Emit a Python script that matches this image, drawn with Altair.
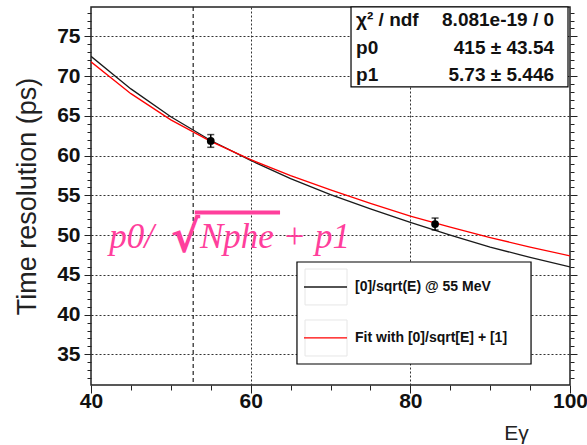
import altair as alt
import pandas as pd

# ---- data ----
energy = [40, 45, 50, 55, 60, 65, 70, 75, 80, 85, 90, 95, 100]
black_curve = [72.5, 68.4, 64.9, 61.9, 59.4, 57.1, 55.1, 53.3, 51.6, 50.0, 48.5, 47.2, 46.0]
red_curve = [71.8, 67.8, 64.5, 61.8, 59.5, 57.5, 55.7, 54.0, 52.4, 51.0, 49.7, 48.5, 47.4]
point_energy = [55.0, 83.1]
point_res = [61.85, 51.4]
point_err = [0.8, 0.75]
marker_energy = [52.8]

x_ticks = [40, 45, 50, 55, 60, 65, 70, 75, 80, 85, 90, 95, 100]
y_ticks = list(range(32, 79))

stats_labels = ["χ² / ndf", "p0", "p1"]
stats_values = ["8.081e-19 / 0", "415 ± 43.54", "5.73 ± 5.446"]
legend_labels = ["[0]/sqrt(E) @ 55 MeV", "Fit with [0]/sqrt[E] + [1]"]
series_names = ["black", "red"]
series_colors = ["#1a1a1a", "#ff0000"]

# ---- tables ----
curves = pd.DataFrame({
    "E": energy * 2,
    "res": black_curve + red_curve,
    "series": ["black"] * len(energy) + ["red"] * len(energy),
    "order": [0] * len(energy) + [1] * len(energy),
})
points = pd.DataFrame({
    "E": point_energy,
    "res": point_res,
    "lo": [v - e for v, e in zip(point_res, point_err)],
    "hi": [v + e for v, e in zip(point_res, point_err)],
})
one = pd.DataFrame({"a": [0]})

XS = alt.Scale(domain=[40, 100], nice=False, zero=False)
YS = alt.Scale(domain=[31.15, 78.7], nice=False, zero=False)

LF = "Liberation Sans"

XA = alt.Axis(
    values=x_ticks,
    labelExpr="datum.value % 20 === 0 ? datum.label : ''",
    tickSize={"condition": {"test": "datum.value % 20 === 0", "value": 8}, "value": 5},
    tickColor="#222", tickWidth=1,
    grid=True,
    gridOpacity={"condition": {"test": "datum.value === 60 || datum.value === 80", "value": 1}, "value": 0},
    gridDash=[2, 2], gridColor="#333", gridWidth=1,
    domain=False,
    labelFont=LF, labelFontWeight="bold", labelFontSize=21, labelColor="#111",
    labelPadding=-3, labelFlush=False,
    title="Eγ", titleFont=LF, titleFontWeight="normal", titleFontSize=21, titleColor="#222",
    titleX=425, titleY=48, titleAlign="center", titleBaseline="middle", titleAngle=0,
)
YA = alt.Axis(
    values=y_ticks,
    labelExpr="datum.value % 5 === 0 ? datum.label : ''",
    tickSize={"condition": {"test": "datum.value % 5 === 0", "value": 7}, "value": 4},
    tickColor="#222", tickWidth=1,
    grid=True,
    gridOpacity={"condition": {"test": "datum.value % 5 === 0", "value": 1}, "value": 0},
    gridDash=[2, 2], gridColor="#333", gridWidth=1,
    domain=False,
    labelFont=LF, labelFontWeight="bold", labelFontSize=21, labelColor="#111",
    labelPadding=4,
    title="Time resolution (ps)", titleFont=LF, titleFontWeight="normal", titleFontSize=27,
    titleColor="#222", titleX=-64, titleY=189, titleAngle=270,
    titleAlign="center", titleBaseline="middle",
)
YA_RIGHT = alt.Axis(
    orient="right", values=y_ticks, labels=False, grid=False, domain=False,
    tickSize={"condition": {"test": "datum.value % 5 === 0", "value": 7}, "value": 4},
    tickColor="#222", title=None,
)


def X(field):
    return alt.X(field, scale=XS, axis=XA)


def Y(field):
    return alt.Y(field, scale=YS, axis=YA)


def DX(v):
    return alt.XDatum(v, scale=XS, axis=XA)


def DY(v):
    return alt.YDatum(v, scale=YS, axis=YA)


# curves
lines = alt.Chart(curves).mark_line(strokeWidth=1.3, clip=True).encode(
    x=X("E:Q"), y=Y("res:Q"),
    color=alt.Color("series:N", scale=alt.Scale(domain=series_names, range=series_colors), legend=None),
    detail="series:N",
    order=alt.Order("order:Q"),
)

marker = alt.Chart(pd.DataFrame({"E": marker_energy})).mark_rule(
    color="#222", strokeDash=[4, 3], strokeWidth=1.2
).encode(x=X("E:Q"))

errbars = alt.Chart(points).mark_rule(color="#000", strokeWidth=1.5).encode(
    x=X("E:Q"), y=Y("lo:Q"), y2="hi:Q")
caps_lo = alt.Chart(points).mark_tick(orient="horizontal", color="#000", size=7, thickness=1.5).encode(
    x=X("E:Q"), y=Y("lo:Q"))
caps_hi = alt.Chart(points).mark_tick(orient="horizontal", color="#000", size=7, thickness=1.5).encode(
    x=X("E:Q"), y=Y("hi:Q"))
dots = alt.Chart(points).mark_circle(color="#000", opacity=1, size=60).encode(
    x=X("E:Q"), y=Y("res:Q"))


def box(x1, x2, y1, y2, stroke="#000", sw=1.2, fill="#ffffff"):
    return alt.Chart(one).mark_rect(fill=fill, stroke=stroke, strokeWidth=sw).encode(
        x=DX(x1), x2=alt.datum(x2), y=DY(y1), y2=alt.datum(y2))


# stats box
stats_box = box(72.57, 99.75, 78.7, 68.64)
stats_rows_y = [77.06, 73.54, 70.15]
stats_df = pd.DataFrame({"lab": stats_labels, "val": stats_values, "y": stats_rows_y})
stats_lab = alt.Chart(stats_df).mark_text(
    align="left", baseline="middle", font=LF, fontWeight="bold", fontSize=19, color="#111"
).encode(x=DX(73.2), y=Y("y:Q"), text="lab:N")
stats_val = alt.Chart(stats_df).mark_text(
    align="right", baseline="middle", font=LF, fontWeight="bold", fontSize=19, color="#111"
).encode(x=DX(98.0), y=Y("y:Q"), text="val:N")

# legend box
leg_box = box(65.8, 95.12, 46.62, 33.79)
leg_s1 = box(66.81, 72.07, 45.74, 41.22, stroke="#e6e6e6", sw=1)
leg_s2 = box(66.81, 72.07, 39.33, 34.80, stroke="#e6e6e6", sw=1)
leg_rows_y = [43.48, 37.07]
leg_df = pd.DataFrame({"lab": legend_labels, "y": leg_rows_y, "series": series_names})
leg_lines = alt.Chart(leg_df).mark_rule(strokeWidth=1.3).encode(
    x=DX(66.68), x2=alt.datum(72.07), y=Y("y:Q"),
    color=alt.Color("series:N", scale=alt.Scale(domain=series_names, range=series_colors), legend=None),
)
leg_text = alt.Chart(leg_df).mark_text(
    align="left", baseline="middle", font=LF, fontWeight="bold", fontSize=14, color="#111"
).encode(x=DX(73.07), y=Y("y:Q"), text="lab:N")

# formula annotation
PINK = "#ff3f9c"
f1 = alt.Chart(one).mark_text(
    align="left", baseline="alphabetic", font="Liberation Serif", fontStyle="italic",
    fontSize=35, color=PINK
).encode(x=DX(42.3), y=DY(48.39), text=alt.value("p0/"))
f_sqrt = alt.Chart(one).mark_text(
    align="left", baseline="alphabetic", font="DejaVu Sans", fontWeight="bold",
    fontSize=44, color=PINK
).encode(x=DX(50.0), y=DY(47.9), text=alt.value("√"))
f_bar = alt.Chart(one).mark_rule(color=PINK, strokeWidth=4).encode(
    x=DX(53.0), x2=alt.datum(63.68), y=DY(52.85))
f2 = alt.Chart(one).mark_text(
    align="left", baseline="alphabetic", font="Liberation Serif", fontStyle="italic",
    fontSize=35, color=PINK
).encode(x=DX(53.65), y=DY(48.39), text=alt.value("Nphe + p1"))

main = alt.layer(
    lines, marker, errbars, caps_lo, caps_hi, dots,
    f1, f_sqrt, f_bar, f2,
    stats_box, stats_lab, stats_val,
    leg_box, leg_s1, leg_s2, leg_lines, leg_text,
)

right_ticks = alt.Chart(pd.DataFrame({"E": marker_energy, "v": [50.0]})).mark_point(opacity=0).encode(
    x=X("E:Q"),
    y=alt.Y("v:Q", scale=YS, axis=YA_RIGHT),
)

chart = alt.layer(main, right_ticks).resolve_axis(y="independent").properties(
    width=479, height=378,
    autosize=alt.AutoSizeParams(type="none"),
    padding={"left": 91, "top": 7, "right": 17, "bottom": 60},
    background="#ffffff",
).configure_view(stroke="#222", strokeWidth=1.5)

chart.save("out.html", embed_options={"renderer": "svg", "actions": False})
